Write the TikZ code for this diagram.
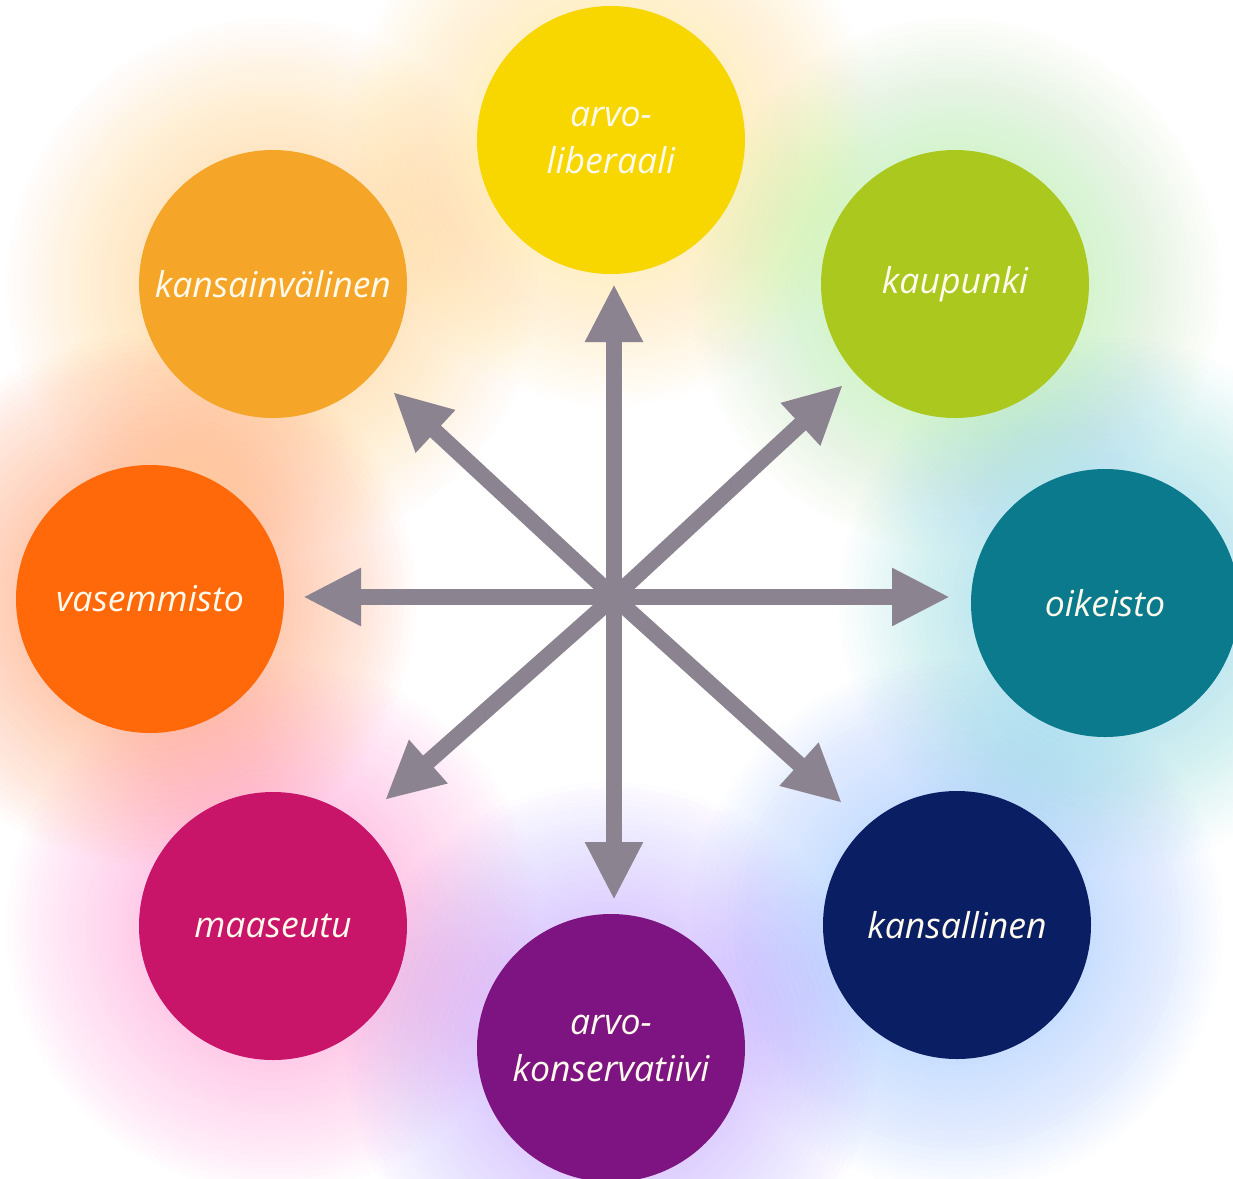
\documentclass[tikz,border=0pt]{standalone}
\usepackage{fontspec}
\setmainfont{Open Sans}
\usetikzlibrary{arrows.meta}
\definecolor{cLib}{HTML}{F8D600}
\definecolor{cKau}{HTML}{AAC81E}
\definecolor{cOik}{HTML}{0A7A8C}
\definecolor{cKsl}{HTML}{0A1E64}
\definecolor{cKon}{HTML}{7D1482}
\definecolor{cMaa}{HTML}{C81469}
\definecolor{cVas}{HTML}{FF690A}
\definecolor{cKvl}{HTML}{F5A528}
\definecolor{gLib}{HTML}{FFF080}
\definecolor{gKau}{HTML}{A8F490}
\definecolor{gOik}{HTML}{70E4F0}
\definecolor{gKsl}{HTML}{80B8FF}
\definecolor{gKon}{HTML}{B890FF}
\definecolor{gMaa}{HTML}{FF88D0}
\definecolor{gVas}{HTML}{FF8848}
\definecolor{gKvl}{HTML}{FFC870}
\definecolor{arrg}{RGB}{139,131,144}
\definecolor{textc}{RGB}{255,250,236}
\tikzset{
  bub/.style={circle, inner sep=0pt, minimum size=134pt, text=textc,
    font=\itshape\fontsize{17.8}{23.5}\selectfont, align=center},
  arr/.style={draw=arrg, line width=8pt, -{Triangle[length=29pt,width=27pt]}},
  halo/.style={fill opacity=0.019}
}
\begin{document}
\begin{tikzpicture}[x=0.5pt,y=-0.5pt]
\useasboundingbox (0,0) rectangle (1233,1179);
\fill[white] (0,0) rectangle (1233,1179);
% glows
\foreach \gx/\gy/\gc in {611/140/gLib, 955/284/gKau, 1105/603/gOik, 957/925/gKsl,
  611/1048/gKon, 273/926/gMaa, 150/599/gVas, 273/284/gKvl}{
  \foreach \r in {140,146,...,266} \fill[\gc, halo] (\gx,\gy) circle[radius=\r];
}
% circles
\node[bub, fill=cLib] (lib) at (611,140) {arvo-\\liberaali};
\node[bub, fill=cKau] (kau) at (955,284) {kaupunki};
\node[bub, fill=cOik] (oik) at (1105,603) {oikeisto};
\node[bub, fill=cKsl] (ksl) at (957,925) {kansallinen};
\node[bub, fill=cKon] (kon) at (611,1048) {arvo-\\konservatiivi};
\node[bub, fill=cMaa] (maa) at (273,926) {maaseutu};
\node[bub, fill=cVas] (vas) at (150,599) {vasemmisto};
\node[bub, fill=cKvl] (kvl) at (273,284) {kansainvälinen};
% arrows
\coordinate (c) at (614,597);
\coordinate (tU) at (614,284);
\coordinate (tD) at (614,900);
\coordinate (tL) at (303,597);
\coordinate (tR) at (950,597);
\coordinate (tUL) at (393,392);
\coordinate (tUR) at (843,385);
\coordinate (tLL) at (385,800);
\coordinate (tLR) at (842,803);
\foreach \t in {tU,tD,tL,tR,tUL,tUR,tLL,tLR} \draw[arr] (c) -- (\t);
\end{tikzpicture}
\end{document}
